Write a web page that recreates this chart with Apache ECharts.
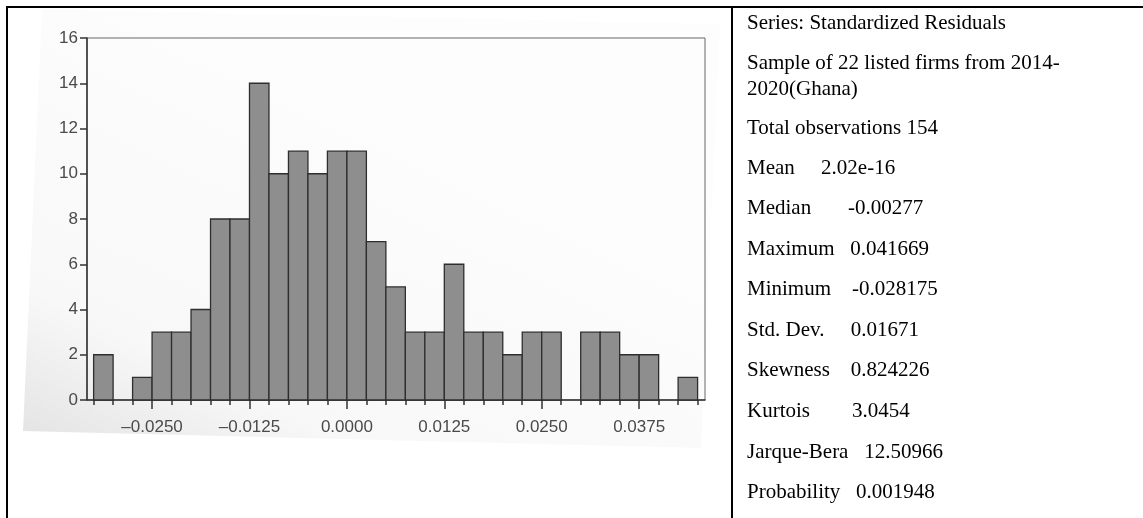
<!DOCTYPE html>
<html>
	<head>
		<meta charset="utf-8">
		<title>Standardized Residuals</title>
		<style>
			html, body { margin: 0; padding: 0; background: #fff; }
			#main { width: 1143px; height: 518px; }
		</style>
	</head>
	<body>
		<div id="main"></div>
		<script src="https://cdn.jsdelivr.net/npm/echarts@6/dist/echarts.min.js" type="text/javascript" charset="utf-8"></script>
		<script type="text/javascript">
			// lower edge of each histogram bin (bin width 0.0025)
			var binStarts = [-0.0325, -0.0300, -0.0275, -0.0250, -0.0225, -0.0200, -0.0175, -0.0150,
				-0.0125, -0.0100, -0.0075, -0.0050, -0.0025, 0.0000, 0.0025, 0.0050,
				0.0075, 0.0100, 0.0125, 0.0150, 0.0175, 0.0200, 0.0225, 0.0250,
				0.0275, 0.0300, 0.0325, 0.0350, 0.0375, 0.0400, 0.0425];
			var binWidth = 0.0025;
			var counts = [2, 0, 1, 3, 3, 4, 8, 8,
				14, 10, 11, 10, 11, 11, 7, 5,
				3, 3, 6, 3, 3, 2, 3, 3,
				0, 3, 3, 2, 2, 0, 1];
			var xLabels = [-0.0250, -0.0125, 0.0000, 0.0125, 0.0250, 0.0375];
			var yTicks = [0, 2, 4, 6, 8, 10, 12, 14, 16];

			// statistics panel on the right
			var statLines = [
				'Series: Standardized Residuals',
				'Sample of 22 listed firms from 2014-',
				'2020(Ghana)',
				'Total observations 154',
				'Mean     2.02e-16',
				'Median       -0.00277',
				'Maximum   0.041669',
				'Minimum    -0.028175',
				'Std. Dev.     0.01671',
				'Skewness    0.824226',
				'Kurtois        3.0454',
				'Jarque-Bera   12.50966',
				'Probability   0.001948'
			];
			var statY = [22, 62, 88, 127, 167, 207, 248, 288, 329, 369, 410, 451, 491];

			var minorTicks = binStarts.concat([binStarts[binStarts.length - 1] + binWidth]);
			var barData = binStarts.map(function(s, i){ return [s, s + binWidth, counts[i]]; });

			var myChart = echarts.init(document.getElementById('main'));

			var labelFont = { fontFamily: 'Liberation Sans, Arial, sans-serif', fontSize: 17, color: '#4a4a4a' };

			var graphics = [
				// faint photo background behind the chart
				{
					type: 'polygon', z: -10, silent: true,
					shape: { points: [[42, 9], [720, 24], [701, 448], [23, 431]] },
					style: {
						fill: new echarts.graphic.LinearGradient(0.3, 0, 0, 1, [
							{ offset: 0, color: '#fdfdfd' },
							{ offset: 0.7, color: '#f8f8f8' },
							{ offset: 1, color: '#e2e2e2' }
						])
					}
				},
				// table borders
				{ type: 'line', silent: true, shape: { x1: 6, y1: 7, x2: 1143, y2: 7 }, style: { stroke: '#000', lineWidth: 2 } },
				{ type: 'line', silent: true, shape: { x1: 7, y1: 6, x2: 7, y2: 518 }, style: { stroke: '#000', lineWidth: 2 } },
				{ type: 'line', silent: true, shape: { x1: 732, y1: 6, x2: 732, y2: 518 }, style: { stroke: '#000', lineWidth: 2 } }
			];
			statLines.forEach(function(t, i){
				graphics.push({
					type: 'text', silent: true, left: 747, top: statY[i] - 9,
					style: { text: t, fill: '#000', font: '21px "Liberation Serif", "Times New Roman", serif' }
				});
			});

			var option = {
				animation: false,
				grid: { left: 87, right: 438, top: 38, bottom: 118, show: true, borderColor: '#666', borderWidth: 1 },
				xAxis: [{
					type: 'value', min: -0.03335, max: 0.04595,
					splitLine: { show: false },
					axisLine: { onZero: false, lineStyle: { color: '#333', width: 1.5 } },
					axisTick: { customValues: xLabels, length: 9, lineStyle: { color: '#333', width: 1.5 } },
					axisLabel: Object.assign({
						customValues: xLabels, margin: 19,
						formatter: function(v){ return (v < 0 ? '\u2013' : '') + Math.abs(v).toFixed(4); }
					}, labelFont)
				}, {
					type: 'value', min: -0.03335, max: 0.04595, position: 'bottom',
					splitLine: { show: false },
					axisLine: { show: false, onZero: false },
					axisTick: { customValues: minorTicks, length: 5, lineStyle: { color: '#333', width: 1.5 } },
					axisLabel: { show: false }
				}],
				yAxis: {
					type: 'value', min: 0, max: 16,
					splitLine: { show: false },
					axisLine: { show: true, onZero: false, lineStyle: { color: '#333', width: 1.5 } },
					axisTick: { show: true, customValues: yTicks, length: 7, lineStyle: { color: '#333', width: 1.5 } },
					axisLabel: Object.assign({ customValues: yTicks, margin: 9 }, labelFont)
				},
				graphic: graphics,
				series: [{
					type: 'custom',
					xAxisIndex: 0,
					data: barData,
					encode: { x: [0, 1], y: 2 },
					renderItem: function(params, api){
						if (api.value(2) <= 0) return;
						var p0 = api.coord([api.value(0), api.value(2)]);
						var p1 = api.coord([api.value(1), 0]);
						return {
							type: 'rect',
							shape: { x: p0[0], y: p0[1], width: p1[0] - p0[0], height: p1[1] - p0[1] },
							style: { fill: '#8e8e8e', stroke: '#2e2e2e', lineWidth: 1.3 }
						};
					}
				}]
			};
			myChart.setOption(option);
		</script>
	</body>
</html>
